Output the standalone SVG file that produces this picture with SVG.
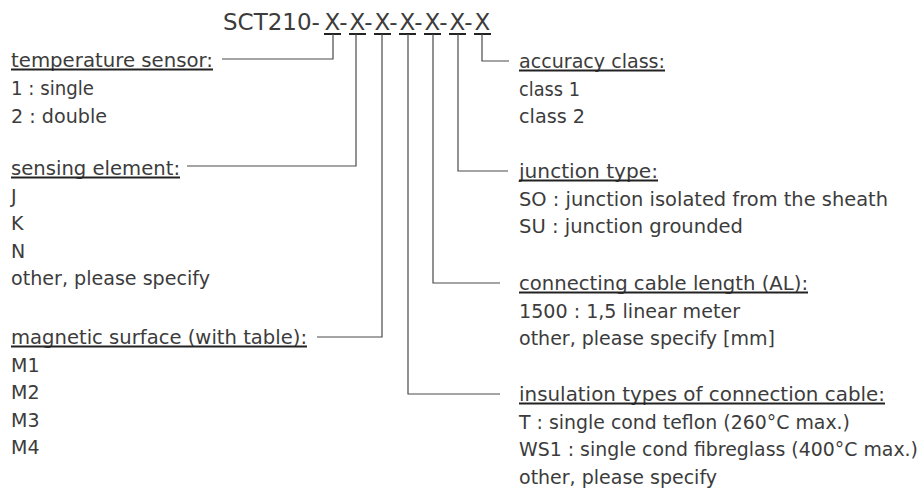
<svg xmlns="http://www.w3.org/2000/svg" width="922" height="501" viewBox="0 0 922 501">
<style>
text{font-family:"DejaVu Sans","Liberation Sans",sans-serif;font-size:19px;fill:#3c3c3c}
.title{font-size:23px}
.ul{stroke:#222;stroke-width:2}
.conn{fill:none;stroke:#4a4a4a;stroke-width:1.2}
</style>
<rect width="922" height="501" fill="#fff"/>
<g id="title">
<text class="title" x="223" y="30">SCT210-<tspan x="324.5">X</tspan>-<tspan x="349.5">X</tspan>-<tspan x="374.5">X</tspan>-<tspan x="399.5">X</tspan>-<tspan x="424.5">X</tspan>-<tspan x="449.5">X</tspan>-<tspan x="474.5">X</tspan></text>
<path class="ul" stroke-width="1.5" d="M324,34h17M349,34h17M374,34h17M399,34h17M424,34h17M449,34h17M474,34h17"/>
</g>
<g id="temperature-sensor">
<text x="11" y="67" textLength="202" lengthAdjust="spacingAndGlyphs">temperature sensor:</text>
<line class="ul" x1="11" y1="69.5" x2="213" y2="69.5"/>
<text x="11" y="95" textLength="83" lengthAdjust="spacingAndGlyphs">1 : single</text>
<text x="11" y="122.5" textLength="96" lengthAdjust="spacingAndGlyphs">2 : double</text>
</g>
<g id="sensing-element">
<text x="11" y="175" textLength="169" lengthAdjust="spacingAndGlyphs">sensing element:</text>
<line class="ul" x1="11" y1="177.5" x2="180" y2="177.5"/>
<text x="11" y="202.5">J</text>
<text x="11" y="230">K</text>
<text x="11" y="257.5">N</text>
<text x="11" y="285" textLength="199" lengthAdjust="spacingAndGlyphs">other, please specify</text>
</g>
<g id="magnetic-surface">
<text x="11" y="344" textLength="296" lengthAdjust="spacingAndGlyphs">magnetic surface (with table):</text>
<line class="ul" x1="11" y1="346.5" x2="307" y2="346.5"/>
<text x="11" y="371.5">M1</text>
<text x="11" y="399">M2</text>
<text x="11" y="426.5">M3</text>
<text x="11" y="454">M4</text>
</g>
<g id="accuracy-class">
<text x="519" y="68" textLength="146" lengthAdjust="spacingAndGlyphs">accuracy class:</text>
<line class="ul" x1="519" y1="70.5" x2="665" y2="70.5"/>
<text x="519" y="95.5" textLength="61" lengthAdjust="spacingAndGlyphs">class 1</text>
<text x="519" y="123" textLength="66" lengthAdjust="spacingAndGlyphs">class 2</text>
</g>
<g id="junction-type">
<text x="519" y="178" textLength="139" lengthAdjust="spacingAndGlyphs">junction type:</text>
<line class="ul" x1="519" y1="180.5" x2="658" y2="180.5"/>
<text x="519" y="205.5" textLength="369" lengthAdjust="spacingAndGlyphs">SO : junction isolated from the sheath</text>
<text x="519" y="233" textLength="224" lengthAdjust="spacingAndGlyphs">SU : junction grounded</text>
</g>
<g id="cable-length">
<text x="519" y="290" textLength="289" lengthAdjust="spacingAndGlyphs">connecting cable length (AL):</text>
<line class="ul" x1="519" y1="292.5" x2="808" y2="292.5"/>
<text x="519" y="317.5" textLength="221" lengthAdjust="spacingAndGlyphs">1500 : 1,5 linear meter</text>
<text x="519" y="345" textLength="256" lengthAdjust="spacingAndGlyphs">other, please specify [mm]</text>
</g>
<g id="insulation-types">
<text x="519" y="401" textLength="366" lengthAdjust="spacingAndGlyphs">insulation types of connection cable:</text>
<line class="ul" x1="519" y1="403.5" x2="885" y2="403.5"/>
<text x="519" y="428.5" textLength="331" lengthAdjust="spacingAndGlyphs">T : single cond teflon (260°C max.)</text>
<text x="519" y="456" textLength="399" lengthAdjust="spacingAndGlyphs">WS1 : single cond fibreglass (400°C max.)</text>
<text x="519" y="483.5" textLength="198" lengthAdjust="spacingAndGlyphs">other, please specify</text>
</g>
<g id="connectors">
<path class="conn" d="M333,34V59H222"/>
<path class="conn" d="M356,34V166H187"/>
<path class="conn" d="M382,34V337H317"/>
<path class="conn" d="M408,34V394H500"/>
<path class="conn" d="M433,34V283H500"/>
<path class="conn" d="M458,34V171H508"/>
<path class="conn" d="M482,34V61H509"/>
</g>
</svg>
